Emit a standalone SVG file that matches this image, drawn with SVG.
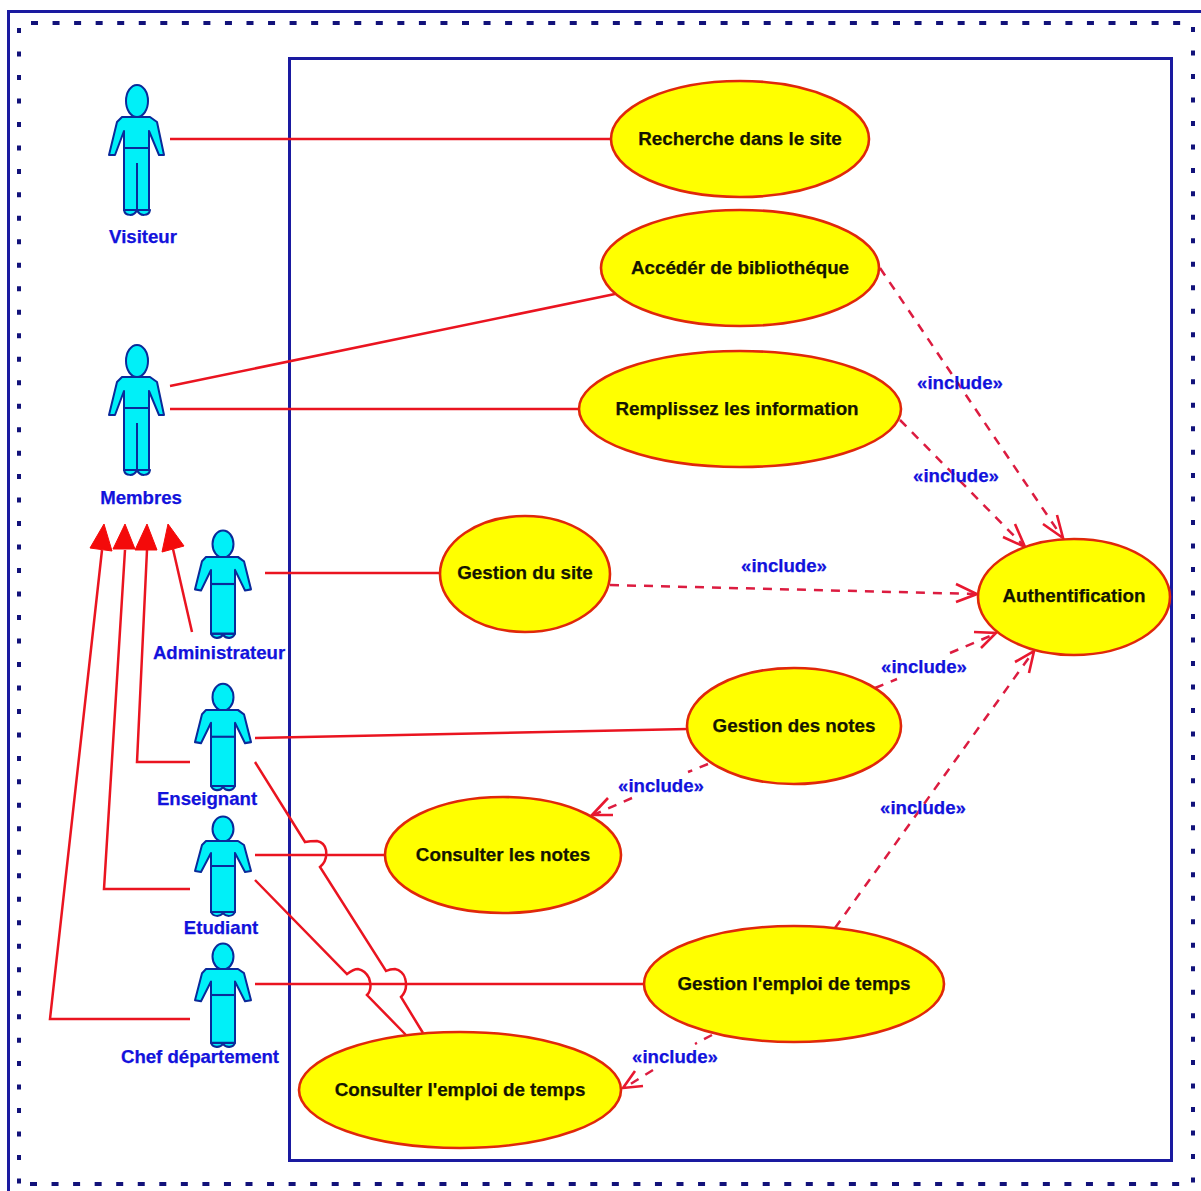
<svg xmlns="http://www.w3.org/2000/svg" width="1201" height="1191" viewBox="0 0 1201 1191">
<style>
.frame{fill:none;stroke:#1a1aa0;stroke-width:3}
.dh{fill:none;stroke:#12127a;stroke-width:4;stroke-dasharray:7 14.55}
.dv{fill:none;stroke:#12127a;stroke-width:4;stroke-dasharray:5 18.48}
.uc{fill:#ffff00;stroke:#e0280a;stroke-width:2.6}
.ut{font:bold 18.8px "Liberation Sans",Arial,sans-serif;fill:#141400;stroke:#141400;stroke-width:.25;text-anchor:middle}
.al,.il{font:bold 18.6px "Liberation Sans",Arial,sans-serif;fill:#1212dc;stroke:#1212dc;stroke-width:.25;text-anchor:middle}
.l{fill:none;stroke:#ea1420;stroke-width:2.5}
.d{fill:none;stroke:#dc1c40;stroke-width:2.5;stroke-dasharray:9 8}
.ah{fill:none;stroke:#e81830;stroke-width:2.6}
.tri{fill:#f40a0a;stroke:#f40a0a;stroke-width:1}
.a{fill:#00f0f8;stroke:#0a2a9a;stroke-width:2;stroke-linejoin:round}
.al2{fill:none;stroke:#0a2a9a;stroke-width:2}
</style>
<defs>
<g id="tall">
<path class="a" d="M-13 71C-12 77-3 78 0 71C3 78 12 77 13 71Z"/>
<ellipse class="a" cx="0" cy="-38" rx="11" ry="16"/>
<path class="a" d="M-15-22H13L20-17L27 16L22 16L12-8V71H-13V-8L-22 16L-28 16L-20-17Z"/>
<path class="al2" d="M-13 9H12M0 24V71"/>
</g>
<g id="short">
<path class="a" d="M-12 71C-10 76-3 76 0 72C3 76 10 76 12 71Z"/>
<ellipse class="a" cx="0" cy="-12" rx="10.500" ry="12.500"/>
<path class="a" d="M-17 0H15L21 4L28 30L22 31L12 12V71H-12V12L-22 31L-28 30L-21 4Z"/>
<path class="al2" d="M-12 25H12"/>
</g>
</defs>
<path class="frame" d="M1201 11.500H8.500V1191"/>
<path class="dh" d="M31 23H1182M30 1184H1182"/>
<path class="dv" d="M19 28V1186M1193 27V1186"/>
<rect class="frame" x="289.500" y="58.500" width="882" height="1102"/>
<g id="connectors">
<path class="l" d="M170 139H612"/>
<path class="l" d="M170 386L615 294"/>
<path class="l" d="M170 409H581"/>
<path class="l" d="M265 573H440"/>
<path class="l" d="M255 738L688 729"/>
<path class="l" d="M255 855H386"/>
<path class="l" d="M255 984H644"/>
<path class="l" d="M255 762L305 842C310 841 313 841 317 841C322 842 325 845 326 850C327 857 326 862 320 867L386 971C390 969 392 969 395 969C400 970 404 974 405 978C407 985 406 992 401 997L423 1033"/>
<path class="l" d="M255 880L347 974C351 971 354 969 358 969C363 970 367 974 369 978C371 984 372 990 367 995L406 1035"/>
<path class="l" d="M192 632L173 549"/>
<path class="l" d="M190 762H137L147 550"/>
<path class="l" d="M190 889H104L125 550"/>
<path class="l" d="M190 1019H50L102 550"/>
<path class="tri" d="M90 548L104 524L112 551Z"/>
<path class="tri" d="M113 549L125 524L135 549Z"/>
<path class="tri" d="M135 550L147 524L157 550Z"/>
<path class="tri" d="M162 552L168 524L184 546Z"/>
<path class="d" d="M880 268L1062 537"/>
<path class="d" d="M900 420L1024 546"/>
<path class="d" d="M610 585L976 594"/>
<path class="d" d="M875 688L897 679M950 653L995 634"/>
<path class="d" d="M835 928L1033 652"/>
<path class="d" d="M708 764L688 772M632 798L593 815"/>
<path class="d" d="M712 1035L695 1044M653 1070L624 1088"/>
<path class="ah" d="M1057 515L1063 538L1043 524"/>
<path class="ah" d="M1015 524L1025 547L1003 537"/>
<path class="ah" d="M956 584L977 594L956 602"/>
<path class="ah" d="M974 632L996 633L981 648"/>
<path class="ah" d="M1015 662L1034 651L1029 673"/>
<path class="ah" d="M608 798L592 815L613 815"/>
<path class="ah" d="M635 1071L623 1088L643 1086"/>
</g>
<g id="uc1"><ellipse class="uc" cx="740" cy="139" rx="129" ry="58"/><text class="ut" x="740" y="145">Recherche dans le site</text></g>
<g id="uc2"><ellipse class="uc" cx="740" cy="268" rx="139" ry="58"/><text class="ut" x="740" y="274">Accédér de bibliothéque</text></g>
<g id="uc3"><ellipse class="uc" cx="740" cy="409" rx="161" ry="58"/><text class="ut" x="737" y="415">Remplissez les information</text></g>
<g id="uc4"><ellipse class="uc" cx="525" cy="574" rx="85" ry="58"/><text class="ut" x="525" y="579">Gestion du site</text></g>
<g id="uc5"><ellipse class="uc" cx="794" cy="726" rx="107" ry="58"/><text class="ut" x="794" y="732">Gestion des notes</text></g>
<g id="uc6"><ellipse class="uc" cx="503" cy="855" rx="118" ry="58"/><text class="ut" x="503" y="861">Consulter les notes</text></g>
<g id="uc7"><ellipse class="uc" cx="794" cy="984" rx="150" ry="58"/><text class="ut" x="794" y="990">Gestion l'emploi de temps</text></g>
<g id="uc8"><ellipse class="uc" cx="460" cy="1090" rx="161" ry="58"/><text class="ut" x="460" y="1096">Consulter l'emploi de temps</text></g>
<g id="uc9"><ellipse class="uc" cx="1074" cy="597" rx="96" ry="58"/><text class="ut" x="1074" y="602">Authentification</text></g>
<g id="labels">
<text class="il" x="960" y="389">«include»</text>
<text class="il" x="956" y="482">«include»</text>
<text class="il" x="784" y="572">«include»</text>
<text class="il" x="924" y="673">«include»</text>
<text class="il" x="661" y="792">«include»</text>
<text class="il" x="923" y="814">«include»</text>
<text class="il" x="675" y="1063">«include»</text>
</g>
<g id="visiteur"><use href="#tall" x="137" y="139"/><text class="al" x="143" y="243">Visiteur</text></g>
<g id="membres"><use href="#tall" x="137" y="399"/><text class="al" x="141" y="504">Membres</text></g>
<g id="administrateur"><use href="#short" transform="translate(223 557) scale(1 1.08)"/><text class="al" x="219" y="659">Administrateur</text></g>
<g id="enseignant"><use href="#short" transform="translate(223 710) scale(1 1.07)"/><text class="al" x="207" y="805">Enseignant</text></g>
<g id="etudiant"><use href="#short" x="223" y="841"/><text class="al" x="221" y="934">Etudiant</text></g>
<g id="chef"><use href="#short" transform="translate(223 969) scale(1 1.04)"/><text class="al" x="200" y="1063">Chef département</text></g>
</svg>
